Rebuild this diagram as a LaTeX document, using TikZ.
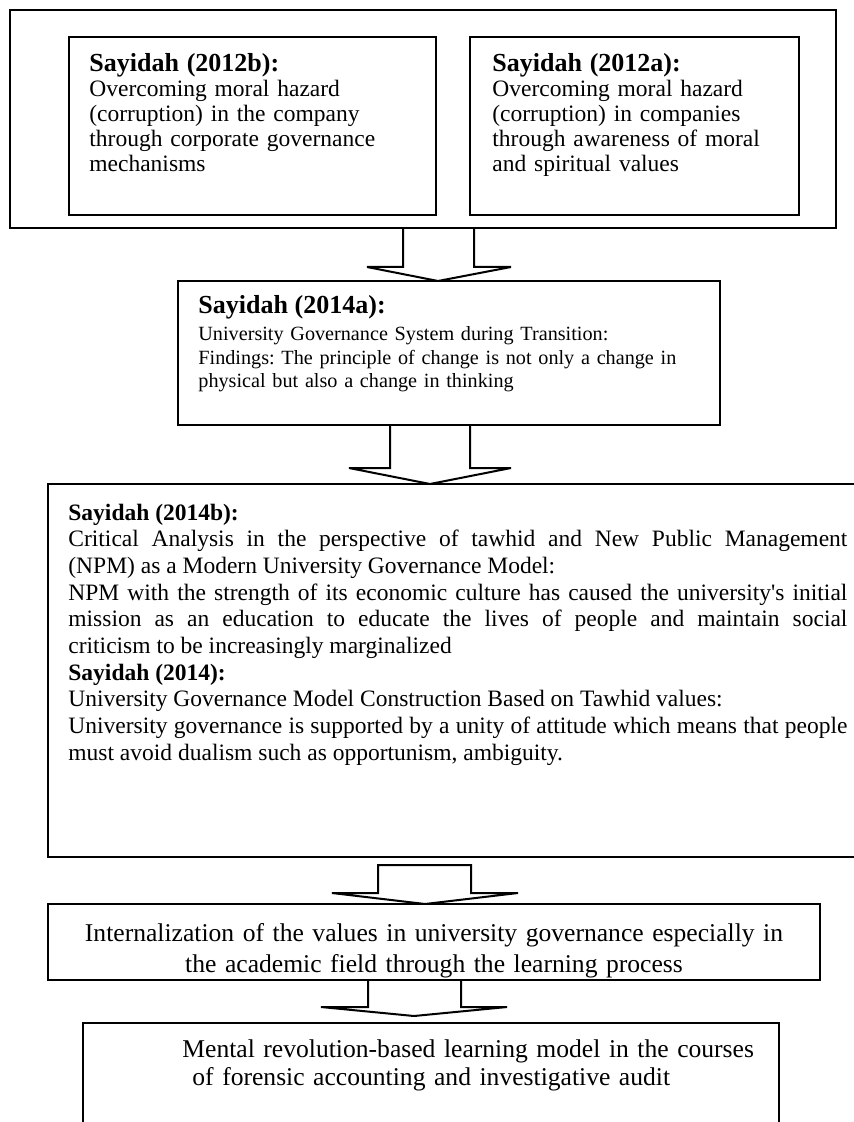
\documentclass[tikz,border=0pt]{standalone}
\usepackage{fontspec}
\setmainfont{Liberation Serif}
\frenchspacing
\usetikzlibrary{calc}
\tikzset{box/.style = {draw, line width = 1pt, inner sep = 0pt, outer sep = 0pt, anchor = north west}}
\tikzset{hollow/.style = {draw, line width = 1pt}}
\tikzset{txt/.style = {inner sep = 0pt, anchor = base west, align = left}}

\begin{document}
\begin{tikzpicture}[x = 0.5pt, y = -0.5pt]
\useasboundingbox (0,0) rectangle (854,1122);
\clip (0,0) rectangle (854,1122);
% boxes
\node [box, minimum width = 413pt, minimum height = 109pt] (grp) at (10,10) {};
\node [box, minimum width = 183.5pt, minimum height = 89pt] (b12b) at (69,37) {};
\node [box, minimum width = 164.5pt, minimum height = 89pt] (b12a) at (470,37) {};
\node [box, minimum width = 271pt, minimum height = 72pt] (b14a) at (178,281) {};
\node [box, minimum width = 411pt, minimum height = 186.5pt] (b14b) at (48,484) {};
\node [box, minimum width = 386pt, minimum height = 38pt] (bint) at (48,904) {};
\node [box, minimum width = 348pt, minimum height = 60pt] (bment) at (83,1023) {};
% texts
\node [txt, text width = 170pt, font = \fontsize{11.75}{12.5}\selectfont] (t12b) at (89,72)
  {{\fontsize{13}{12.5}\selectfont\bfseries Sayidah (2012b):}\\
   Overcoming moral hazard\\
   (corruption) in the company\\
   through corporate governance\\
   mechanisms};
\node [txt, text width = 150pt, font = \fontsize{11.75}{12.5}\selectfont] (t12a) at (492,72)
  {{\fontsize{13}{12.5}\selectfont\bfseries Sayidah (2012a):}\\
   Overcoming moral hazard\\
   (corruption) in companies\\
   through awareness of moral\\
   and spiritual values};
\node [txt, text width = 255pt, font = \fontsize{10.1}{11.75}\selectfont] (t14a) at (198,314)
  {{\fontsize{13}{11.75}\selectfont\bfseries Sayidah (2014a):}\\[1.75pt]
   University Governance System during Transition:\\
   Findings: The principle of change is not only a change in\\
   physical but also a change in thinking};
\node [txt, text width = 389.5pt, align = justify, font = \fontsize{11.75}{13.35}\selectfont] (t14b) at (68,520)
  {\textbf{Sayidah (2014b):}\\
   Critical Analysis in the perspective of tawhid and New Public Management\linebreak
   (NPM) as a Modern University Governance Model:\\
   NPM with the strength of its economic culture has caused the university\textquotesingle s initial\linebreak
   mission as an education to educate the lives of people and maintain social\linebreak
   criticism to be increasingly marginalized\\
   \textbf{Sayidah (2014):}\\
   University Governance Model Construction Based on Tawhid values:\\
   University governance is supported by a unity of attitude which means that people\linebreak
   must avoid dualism such as opportunism, ambiguity.};
\node [txt, anchor = base, text width = 386pt, align = center, font = \fontsize{12.8}{15.5}\selectfont] (tint) at (434,941)
  {Internalization of the values in university governance especially in\\
   the academic field through the learning process};
\node [txt, text width = 320pt, font = \fontsize{12.8}{14}\selectfont] (tment) at (182,1057)
  {Mental revolution-based learning model in the courses\\
   \hspace*{5pt}of forensic accounting and investigative audit};
% block arrows
\draw [hollow] (grp.south -| 403,0) -- (403,267) -- (367,267) -- (b14a.north -| 438,0)
  -- (511,267) -- (474,267) -- (grp.south -| 474,0);
\draw [hollow] (b14a.south -| 390,0) -- (390,468) -- (349,468) -- (b14b.north -| 430,0)
  -- (511,468) -- (470,468) -- (b14a.south -| 470,0);
\draw [hollow] ($(b14b.south -| 378,0) + (0,8)$) -- (378,893) -- (332,893) -- (bint.north -| 425,0)
  -- (518,893) -- (471,893) -- ($(b14b.south -| 471,0) + (0,8)$) -- cycle;
\draw [hollow] (bint.south -| 368,0) -- (368,1007) -- (321,1007) -- ($(bment.north -| 414,0) + (0,-7)$)
  -- (507,1007) -- (461,1007) -- (bint.south -| 461,0);
\end{tikzpicture}
\end{document}
